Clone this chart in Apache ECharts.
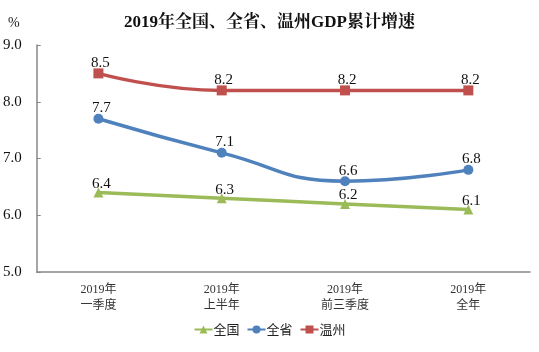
<!DOCTYPE html>
<html><head><meta charset="utf-8">
<script src="https://cdn.jsdelivr.net/npm/echarts@6/dist/echarts.min.js"></script>
<style>html,body{margin:0;padding:0;background:#fff}#c{width:539px;height:352px}</style>
</head><body><div id="c"></div>
<script>
const categories = ['2019年\n一季度', '2019年\n上半年', '2019年\n前三季度', '2019年\n全年'];
const nationalValues = [6.4, 6.3, 6.2, 6.1];
const provinceValues = [7.7, 7.1, 6.6, 6.8];
const wenzhouValues = [8.5, 8.2, 8.2, 8.2];
const yTicks = { min: 5, max: 9, interval: 1 };

const serif = '"Liberation Serif", "Noto Sans CJK SC", serif';
const chart = echarts.init(document.getElementById('c'));
const mkLbl = (d, dx) => ({ show: true, position: 'top', distance: d, offset: [dx, 0], color: '#111', fontFamily: serif, fontSize: 15,
  formatter: p => p.value.toFixed(1) });
chart.setOption({
  animation: false,
  title: { text: '2019年全国、全省、温州GDP累计增速', left: 'center', top: 9,
    textStyle: { fontFamily: '"Liberation Serif", "Noto Serif CJK SC", "Noto Sans CJK SC", serif', fontWeight: 'bold', fontSize: 17, color: '#111' } },
  graphic: [{ type: 'text', left: 8, top: 16, style: { text: '%', fontFamily: serif, fontSize: 14, fill: '#222' } }],
  legend: { top: 318, left: 'center', itemWidth: 18, itemHeight: 10, itemGap: 7,
    textStyle: { fontFamily: '"Noto Sans CJK SC", sans-serif', fontSize: 13, color: '#222', padding: [0, 0, 0, -4] },
    data: ['全国', '全省', '温州'] },
  grid: { left: 36, right: 9, top: 45, bottom: 80 },
  xAxis: { type: 'category', data: categories, boundaryGap: true,
    axisLine: { lineStyle: { color: '#888', width: 1.5 } },
    axisTick: { inside: true, length: 4, lineStyle: { color: '#888' } },
    axisLabel: { color: '#333', fontFamily: serif, fontSize: 12, lineHeight: 16, margin: 10 } },
  yAxis: { type: 'value', min: yTicks.min, max: yTicks.max, interval: yTicks.interval,
    splitLine: { show: false },
    axisLine: { show: true, lineStyle: { color: '#888', width: 1.5 } },
    axisTick: { show: true, inside: true, length: 4, lineStyle: { color: '#888' } },
    axisLabel: { color: '#111', fontFamily: serif, fontSize: 15, margin: 15, formatter: v => v.toFixed(1) } },
  series: [
    { name: '全国', type: 'line', data: nationalValues, smooth: true, symbol: 'triangle', symbolSize: 10,
      itemStyle: { color: '#9BBB59' }, lineStyle: { width: 3.5, color: '#9BBB59' }, label: mkLbl(-4, 3) },
    { name: '全省', type: 'line', data: provinceValues, smooth: true, symbol: 'circle', symbolSize: 10,
      itemStyle: { color: '#4F81BD' }, lineStyle: { width: 3.5, color: '#4F81BD' }, label: mkLbl(-2, 3) },
    { name: '温州', type: 'line', data: wenzhouValues, smooth: true, symbol: 'rect', symbolSize: 10,
      itemStyle: { color: '#C0504D' }, lineStyle: { width: 3.5, color: '#C0504D' }, label: mkLbl(-2, 2) }
  ]
});
</script></body></html>
